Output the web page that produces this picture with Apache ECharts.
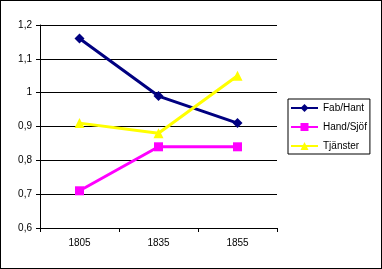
<!DOCTYPE html>
<html><head><meta charset="utf-8">
<script src="https://cdn.jsdelivr.net/npm/echarts@6/dist/echarts.min.js"></script>
<style>
html,body{margin:0;padding:0;background:#fff;}
#c{width:382px;height:269px;box-sizing:border-box;border:1px solid #000;}
</style></head>
<body><div id="c"></div>
<script>
const categories = ['1805', '1835', '1855'];
const fabHant = [1.16, 0.99, 0.91];
const handSjof = [0.71, 0.84, 0.84];
const tjanster = [0.91, 0.88, 1.05];
const yTicks = { min: 0.6, max: 1.2, interval: 0.1 };

const font = "'Liberation Sans', Arial, sans-serif";
const chart = echarts.init(document.getElementById('c'), null, { renderer: 'canvas' });
chart.setOption({
  animation: false,
  backgroundColor: '#fff',
  grid: { left: 39, top: 24, right: 104, bottom: 40, containLabel: false },
  xAxis: {
    type: 'category', data: categories, boundaryGap: true,
    axisLine: { lineStyle: { color: '#000', width: 1 } },
    axisTick: { show: true, length: 4, inside: false, lineStyle: { color: '#000' } },
    axisLabel: { color: '#000', fontFamily: font, fontSize: 10, margin: 10 },
    splitLine: { show: false }
  },
  yAxis: {
    type: 'value', min: yTicks.min, max: yTicks.max, interval: yTicks.interval,
    axisLine: { show: true, lineStyle: { color: '#000', width: 1 } },
    axisTick: { show: true, length: 4, lineStyle: { color: '#000' } },
    axisLabel: { color: '#000', fontFamily: font, fontSize: 10, margin: 8,
      formatter: v => String(Math.round(v * 10) / 10).replace('.', ',') },
    splitLine: { show: true, lineStyle: { color: '#000', width: 1 } }
  },
  legend: {
    orient: 'vertical', left: 287, top: 98,
    padding: [4, 3, 3, 2], itemGap: 9, itemWidth: 27, itemHeight: 10,
    borderColor: '#000', borderWidth: 1, backgroundColor: '#fff',
    textStyle: { color: '#000', fontFamily: font, fontSize: 10 },
    data: ['Fab/Hant', 'Hand/Sjöf', 'Tjänster']
  },
  series: [
    { name: 'Fab/Hant', type: 'line', data: fabHant, color: '#000080',
      symbol: 'diamond', symbolSize: 10, lineStyle: { width: 3 } },
    { name: 'Hand/Sjöf', type: 'line', data: handSjof, color: '#FF00FF',
      symbol: 'rect', symbolSize: 9, lineStyle: { width: 3 } },
    { name: 'Tjänster', type: 'line', data: tjanster, color: '#FFFF00',
      symbol: 'triangle', symbolSize: 10, lineStyle: { width: 3 } }
  ]
});
</script></body></html>
